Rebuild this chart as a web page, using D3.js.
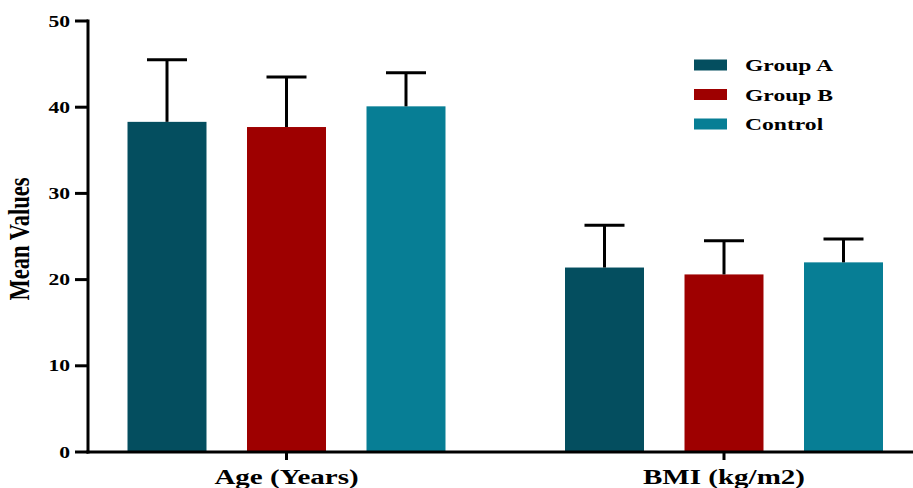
<!DOCTYPE html>
<html>
<head>
<meta charset="utf-8">
<script src="https://cdn.jsdelivr.net/npm/d3@7"></script>
<style>
  body { margin: 0; background: #fff; }
  text { font-family: "Liberation Serif", "Times New Roman", serif; font-weight: bold; fill: #000; }
</style>
</head>
<body>
<div id="app"></div>
<script>
// data
const categories = ['Age (Years)', 'BMI (kg/m2)'];
const groups = ['Group A', 'Group B', 'Control'];
const colors = ['#044e5f', '#9e0000', '#077e95'];
const means = {
  'Age (Years)': [38.3, 37.7, 40.1],
  'BMI (kg/m2)': [21.4, 20.6, 22.0]
};
const sds = {
  'Age (Years)': [7.2, 5.8, 3.9],
  'BMI (kg/m2)': [4.9, 3.9, 2.7]
};
const yTicks = [0, 10, 20, 30, 40, 50];

const width = 913;
const height = 488;
const stretch = 1.35; // text in the picture is stretched sideways

const svg = d3.create('svg').attr('width', width).attr('height', height);

const y = d3.scaleLinear().domain([0, 50]).range([452, 21]);
const x = d3.scalePoint().domain(categories).range([286.5, 724]);
const xg = d3.scaleBand().domain(groups).range([-199.5, 199.5]).padding(0.339);

const rows = [];
categories.forEach((c) => {
  groups.forEach((g, i) => rows.push({ cat: c, group: g, i, mean: means[c][i], sd: sds[c][i] }));
});

// bars
svg.append('g')
  .selectAll('rect')
  .data(rows)
  .join('rect')
  .attr('x', (d) => x(d.cat) + xg(d.group))
  .attr('width', xg.bandwidth())
  .attr('y', (d) => y(d.mean))
  .attr('height', (d) => y(0) - y(d.mean))
  .attr('fill', (d) => colors[d.i]);

// error bars (upper only)
const err = svg.append('g').attr('stroke', '#000').attr('stroke-width', 3);
err.selectAll('line.stem')
  .data(rows)
  .join('line')
  .attr('class', 'stem')
  .attr('x1', (d) => x(d.cat) + xg(d.group) + xg.bandwidth() / 2)
  .attr('x2', (d) => x(d.cat) + xg(d.group) + xg.bandwidth() / 2)
  .attr('y1', (d) => y(d.mean))
  .attr('y2', (d) => y(d.mean + d.sd));
err.selectAll('line.cap')
  .data(rows)
  .join('line')
  .attr('class', 'cap')
  .attr('x1', (d) => x(d.cat) + xg(d.group) + xg.bandwidth() / 2 - 20)
  .attr('x2', (d) => x(d.cat) + xg(d.group) + xg.bandwidth() / 2 + 20)
  .attr('y1', (d) => y(d.mean + d.sd))
  .attr('y2', (d) => y(d.mean + d.sd));

// y axis
const yAxis = svg.append('g').attr('transform', 'translate(88,0)');
yAxis.append('line')
  .attr('x1', 0).attr('x2', 0)
  .attr('y1', y(50) - 1.5).attr('y2', y(0) + 1.5)
  .attr('stroke', '#000').attr('stroke-width', 3);
const yt = yAxis.selectAll('g.tick')
  .data(yTicks)
  .join('g')
  .attr('class', 'tick')
  .attr('transform', (d) => `translate(0,${y(d)})`);
yt.append('line').attr('x1', -13).attr('x2', 0).attr('stroke', '#000').attr('stroke-width', 3);
yt.append('text')
  .attr('transform', `translate(-18,0) scale(${stretch},1)`)
  .attr('text-anchor', 'end')
  .attr('dy', '0.35em')
  .style('font-size', '16px')
  .text((d) => d);

// x axis
const xAxis = svg.append('g').attr('transform', `translate(0,${y(0)})`);
xAxis.append('line')
  .attr('x1', 86.5).attr('x2', width)
  .attr('stroke', '#000').attr('stroke-width', 3);
const xt = xAxis.selectAll('g.tick')
  .data(categories)
  .join('g')
  .attr('class', 'tick')
  .attr('transform', (d) => `translate(${x(d)},0)`);
xt.append('line').attr('y1', 0).attr('y2', 8).attr('stroke', '#000').attr('stroke-width', 3);
xt.append('text')
  .attr('transform', `translate(0,32) scale(${stretch},1)`)
  .attr('text-anchor', 'middle')
  .style('font-size', '21.5px')
  .text((d) => d);

// y title
svg.append('text')
  .attr('transform', `translate(29,239) scale(${stretch},1) rotate(-90)`)
  .attr('text-anchor', 'middle')
  .style('font-size', '22.5px')
  .text('Mean Values');

// legend
const legend = svg.append('g').attr('transform', 'translate(694,65)');
const li = legend.selectAll('g')
  .data(groups)
  .join('g')
  .attr('transform', (d, i) => `translate(0,${i * 29.5})`);
li.append('rect')
  .attr('x', 0).attr('y', -5.5)
  .attr('width', 33).attr('height', 11)
  .attr('fill', (d, i) => colors[i]);
li.append('text')
  .attr('transform', `translate(51,6) scale(${stretch},1)`)
  .style('font-size', '17.5px')
  .text((d) => d);

document.getElementById('app').append(svg.node());
</script>
</body>
</html>
